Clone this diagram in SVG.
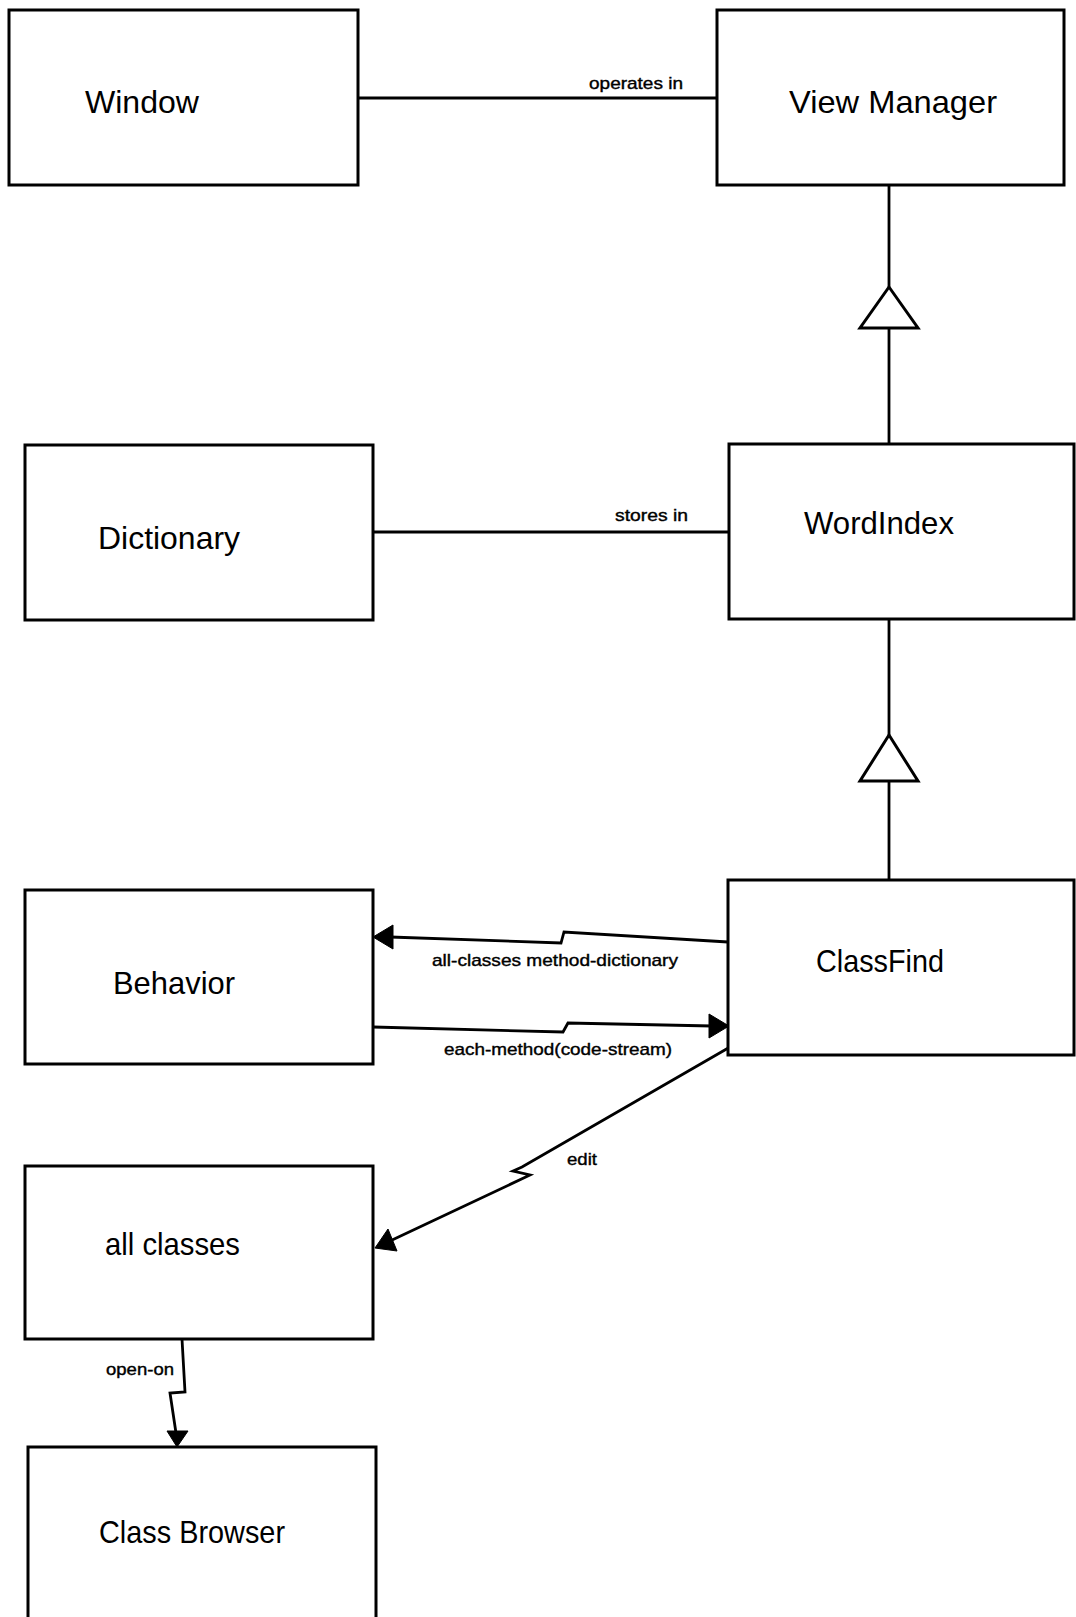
<svg xmlns="http://www.w3.org/2000/svg" width="1076" height="1617" viewBox="0 0 1076 1617">
<defs>
<style>
.box{fill:#fff;stroke:#000;stroke-width:3}
.big{font-family:"Liberation Sans",Arial,sans-serif;font-size:32px;fill:#000}
.lbl{font-family:"Liberation Sans",Arial,sans-serif;font-size:17px;fill:#000;stroke:#000;stroke-width:0.4}
.ln{fill:none;stroke:#000;stroke-width:2.8;stroke-linejoin:miter}
.tri{fill:#fff;stroke:#000;stroke-width:3}
.ah{fill:#000;stroke:#000;stroke-width:1}
</style>
</defs>
<rect width="1076" height="1617" fill="#fff"/>
<g id="connectors">
<path class="ln" d="M358,98 H717"/>
<text class="lbl" x="589" y="89" textLength="94" lengthAdjust="spacingAndGlyphs">operates in</text>
<path class="ln" d="M373,532 H729"/>
<text class="lbl" x="615" y="521" textLength="73" lengthAdjust="spacingAndGlyphs">stores in</text>
<path class="ln" d="M889,185 V287 M889,328 V444"/>
<polygon class="tri" points="889,287 918,328 860,328"/>
<path class="ln" d="M889,619 V735 M889,781 V880"/>
<polygon class="tri" points="889,735 918,781 860,781"/>
<path class="ln" d="M728,942 L564,932 L561,943 L390,937"/>
<polygon class="ah" points="373,937 393,925 393,949"/>
<text class="lbl" x="432" y="966" textLength="246" lengthAdjust="spacingAndGlyphs">all-classes method-dictionary</text>
<path class="ln" d="M373,1027 L563,1032 L568,1023 L712,1026"/>
<polygon class="ah" points="729,1026 709,1014 709,1038"/>
<text class="lbl" x="444" y="1055" textLength="228" lengthAdjust="spacingAndGlyphs">each-method(code-stream)</text>
<path class="ln" d="M730,1047 L522,1167 L513,1171 L530,1175 L390,1241"/>
<polygon class="ah" points="375,1248 388,1229 397,1251"/>
<text class="lbl" x="567" y="1165" textLength="30" lengthAdjust="spacingAndGlyphs">edit</text>
<path class="ln" d="M182,1339 L185,1392 L170,1393 L176,1433"/>
<polygon class="ah" points="177,1447 167,1431 188,1431"/>
<text class="lbl" x="106" y="1375" textLength="68" lengthAdjust="spacingAndGlyphs">open-on</text>
</g>
<g id="window">
<rect class="box" x="9" y="10" width="349" height="175"/>
<text class="big" x="85" y="113" textLength="114" lengthAdjust="spacingAndGlyphs">Window</text>
</g>
<g id="view-manager">
<rect class="box" x="717" y="10" width="347" height="175"/>
<text class="big" x="789" y="113" textLength="208" lengthAdjust="spacingAndGlyphs">View Manager</text>
</g>
<g id="dictionary">
<rect class="box" x="25" y="445" width="348" height="175"/>
<text class="big" x="98" y="549" textLength="142" lengthAdjust="spacingAndGlyphs">Dictionary</text>
</g>
<g id="wordindex">
<rect class="box" x="729" y="444" width="345" height="175"/>
<text class="big" x="804" y="534" textLength="150" lengthAdjust="spacingAndGlyphs">WordIndex</text>
</g>
<g id="behavior">
<rect class="box" x="25" y="890" width="348" height="174"/>
<text class="big" x="113" y="994" textLength="122" lengthAdjust="spacingAndGlyphs">Behavior</text>
</g>
<g id="classfind">
<rect class="box" x="728" y="880" width="346" height="175"/>
<text class="big" x="816" y="972" textLength="128" lengthAdjust="spacingAndGlyphs">ClassFind</text>
</g>
<g id="all-classes">
<rect class="box" x="25" y="1166" width="348" height="173"/>
<text class="big" x="105" y="1255" textLength="135" lengthAdjust="spacingAndGlyphs">all classes</text>
</g>
<g id="class-browser">
<rect class="box" x="28" y="1447" width="348" height="200"/>
<text class="big" x="99" y="1543" textLength="186" lengthAdjust="spacingAndGlyphs">Class Browser</text>
</g>
</svg>
